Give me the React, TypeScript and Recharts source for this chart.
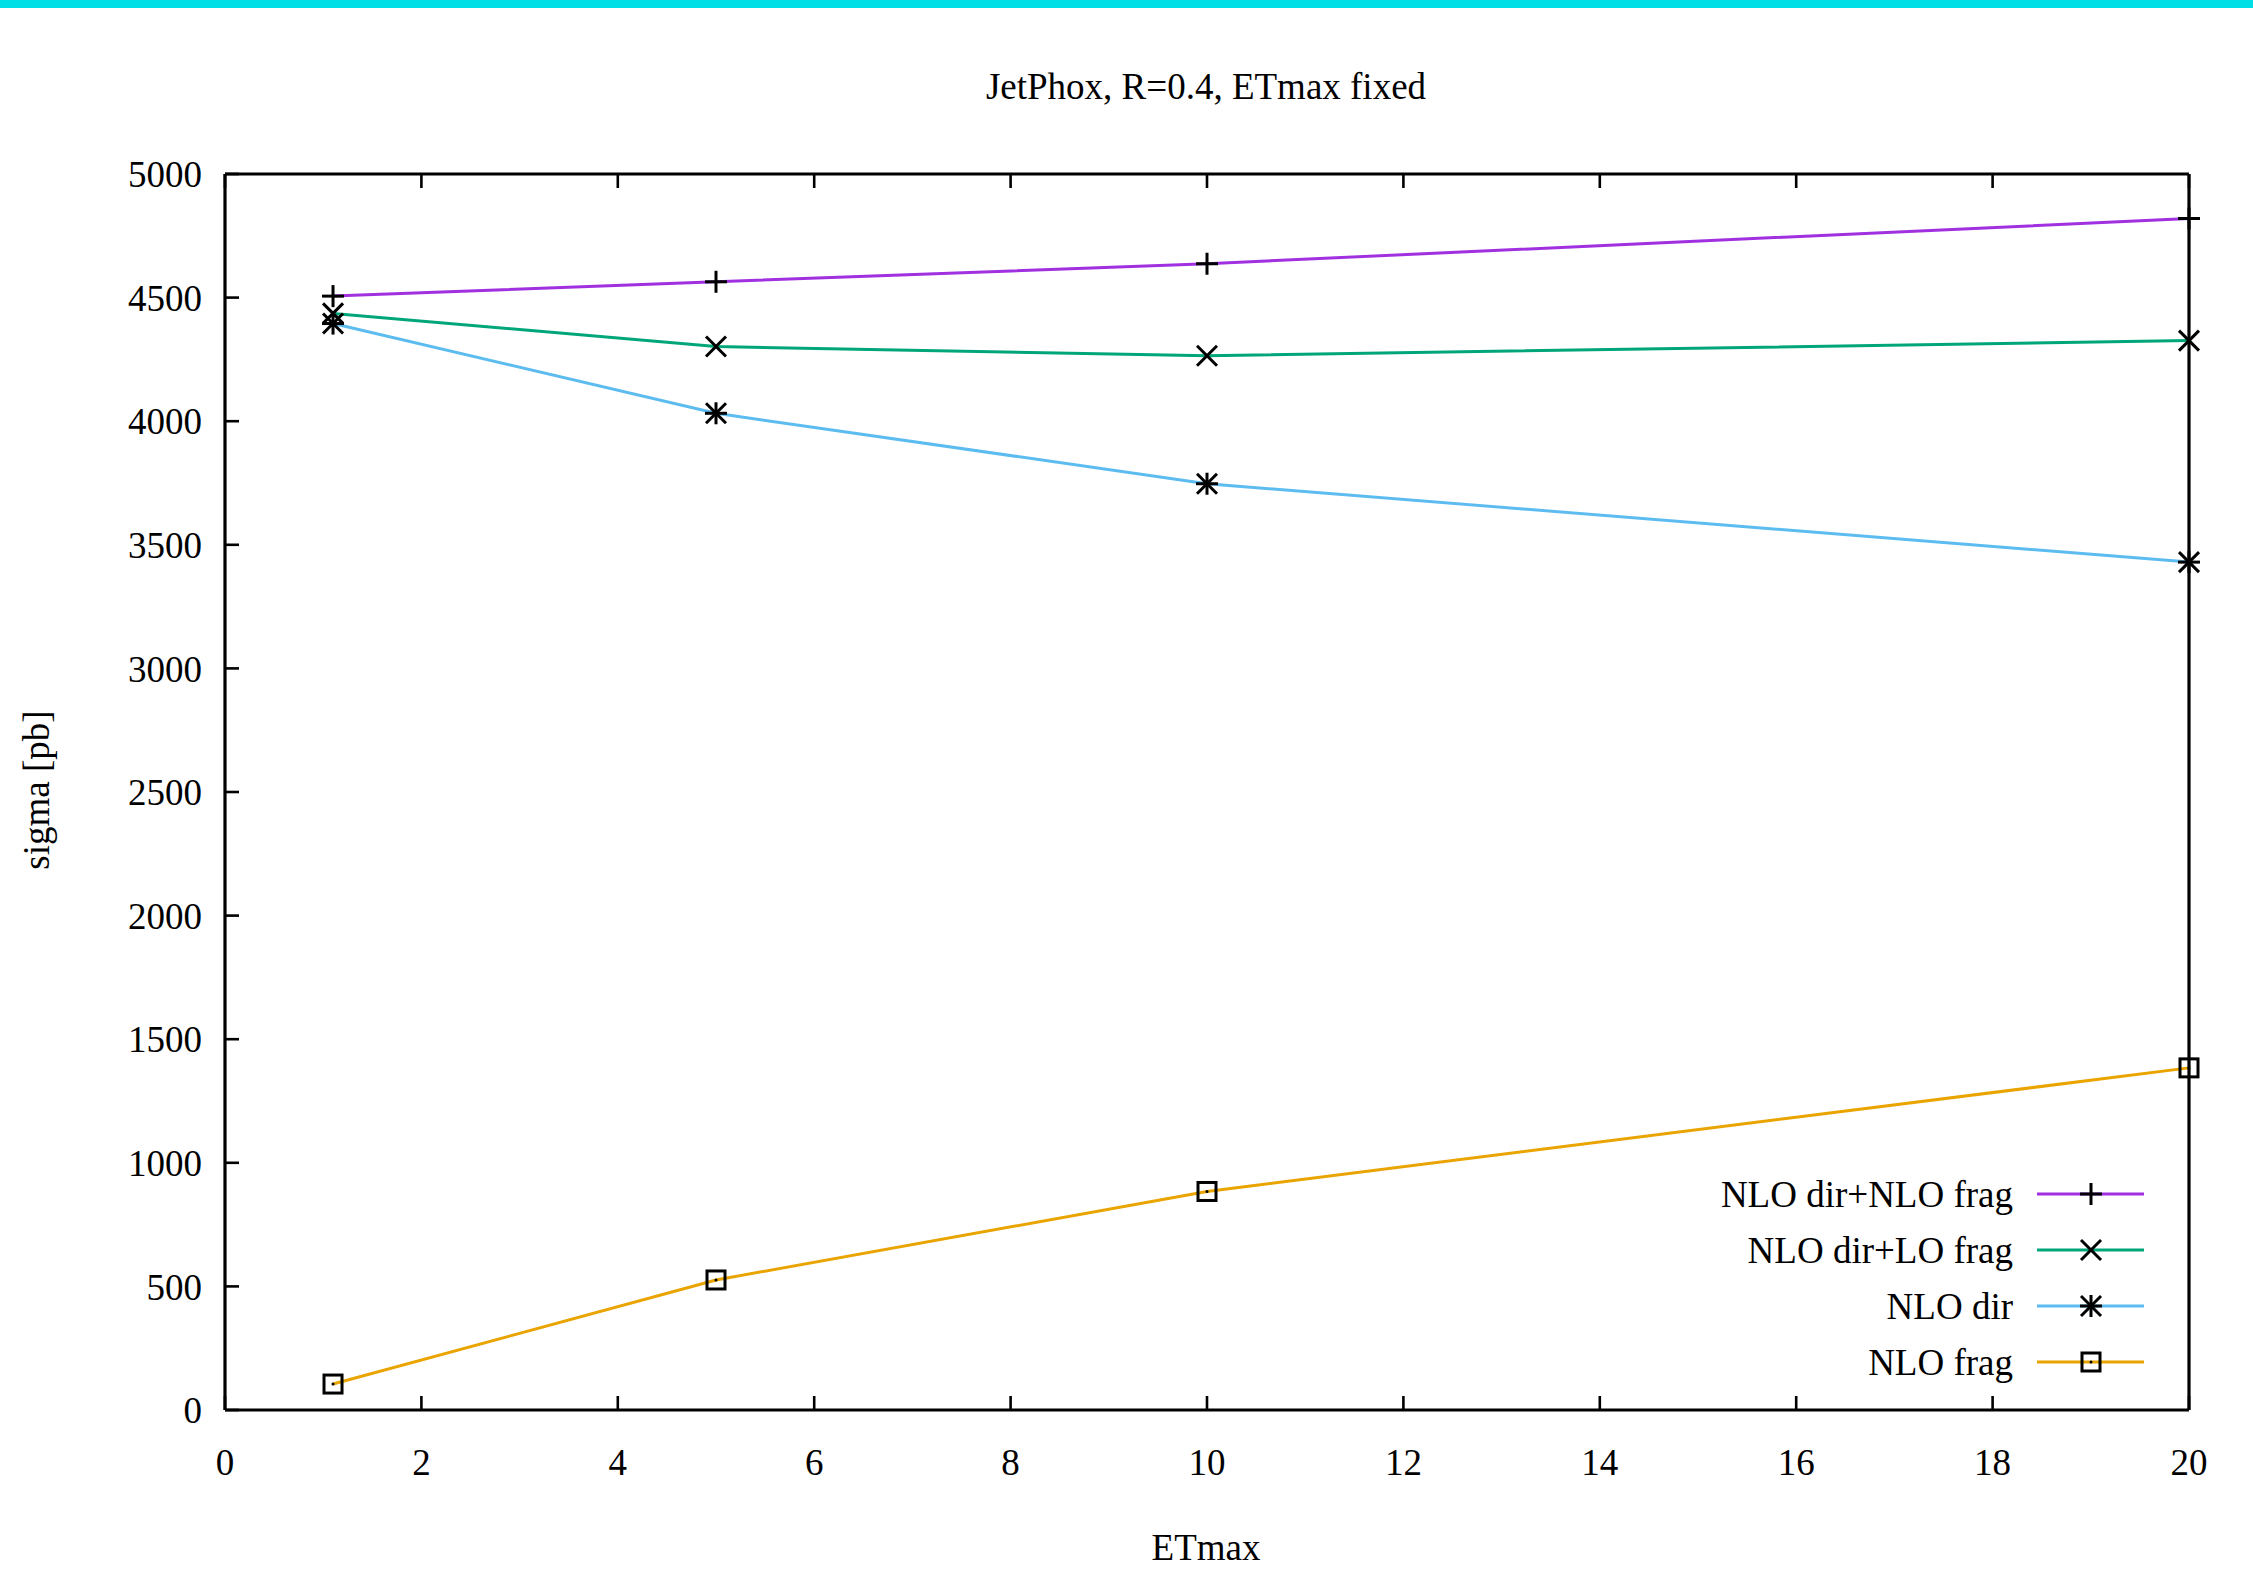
import { LineChart, Line, XAxis, YAxis, Legend, Customized } from 'recharts';

const xValues = [1.1, 5, 10, 20];
const nloDirNloFrag = [4506, 4564, 4637, 4820];
const nloDirLoFrag = [4436, 4302, 4265, 4326];
const nloDir = [4395, 4032, 3747, 3430];
const nloFrag = [105, 526, 884, 1384];

const xTicks = [0, 2, 4, 6, 8, 10, 12, 14, 16, 18, 20];
const yTicks = [0, 500, 1000, 1500, 2000, 2500, 3000, 3500, 4000, 4500, 5000];

const series = [
  { key: 'a', name: 'NLO dir+NLO frag', color: '#a030e0', marker: 'plus', values: nloDirNloFrag },
  { key: 'b', name: 'NLO dir+LO frag', color: '#00a67a', marker: 'cross', values: nloDirLoFrag },
  { key: 'c', name: 'NLO dir', color: '#5cbcf0', marker: 'star', values: nloDir },
  { key: 'd', name: 'NLO frag', color: '#eaa400', marker: 'square', values: nloFrag },
];

const data = xValues.map((x, i) => {
  const row: Record<string, number> = { x };
  series.forEach((s) => (row[s.key] = s.values[i]));
  return row;
});

const FONT = '"Liberation Serif", "DejaVu Serif", serif';
const FS = 37;

function Marker({ kind, cx, cy }: { kind: string; cx: number; cy: number }) {
  const r = 11;
  const d = 10;
  const st = { stroke: '#000', strokeWidth: 3, fill: 'none' };
  if (kind === 'plus') {
    return (
      <g>
        <line x1={cx - r} y1={cy} x2={cx + r} y2={cy} {...st} />
        <line x1={cx} y1={cy - r} x2={cx} y2={cy + r} {...st} />
      </g>
    );
  }
  if (kind === 'cross') {
    return (
      <g>
        <line x1={cx - d} y1={cy - d} x2={cx + d} y2={cy + d} {...st} />
        <line x1={cx - d} y1={cy + d} x2={cx + d} y2={cy - d} {...st} />
      </g>
    );
  }
  if (kind === 'star') {
    return (
      <g>
        <line x1={cx - r} y1={cy} x2={cx + r} y2={cy} {...st} />
        <line x1={cx} y1={cy - r} x2={cx} y2={cy + r} {...st} />
        <line x1={cx - d} y1={cy - d} x2={cx + d} y2={cy + d} {...st} />
        <line x1={cx - d} y1={cy + d} x2={cx + d} y2={cy - d} {...st} />
      </g>
    );
  }
  return (
    <g>
      <rect x={cx - 9} y={cy - 9} width={18} height={18} {...st} />
      <circle cx={cx} cy={cy} r={1.5} fill="#000" />
    </g>
  );
}

const LegendBox = () => (
  <svg width={700} height={240} style={{ overflow: 'visible' }}>
    {series.map((s, i) => {
      const y = 34 + i * 56;
      return (
        <g key={s.key}>
          <text x={513} y={y} dy="0.35em" textAnchor="end" fontFamily={FONT} fontSize={FS} fill="#000">
            {s.name}
          </text>
          <line x1={537} y1={y} x2={644} y2={y} stroke={s.color} strokeWidth={3} />
          <Marker kind={s.marker} cx={591} cy={y} />
        </g>
      );
    })}
  </svg>
);

const ChartTexts = () => (
  <g fontFamily={FONT} fontSize={FS} fill="#000">
    <text x={1206} y={86} dy="0.35em" textAnchor="middle">JetPhox, R=0.4, ETmax fixed</text>
    <text x={1206} y={1547} dy="0.35em" textAnchor="middle">ETmax</text>
    <text x={36} y={790} dy="0.35em" textAnchor="middle" transform="rotate(-90 36 790)">sigma [pb]</text>
  </g>
);

const noLabel = () => <g />;

const App = () => {
  return (
    <div style={{ position: 'absolute', left: 0, top: 0, width: 2253, height: 1588, background: '#fff' }}>
      <div style={{ position: 'absolute', left: 0, top: 0, width: 2253, height: 8, background: '#00dfe6' }} />
      <LineChart
        width={2253}
        height={1588}
        data={data}
        margin={{ top: 164, right: 54, bottom: 0, left: 0 }}
        style={{ fontFamily: FONT }}
      >
        <XAxis
          xAxisId="bottom"
          dataKey="x"
          type="number"
          domain={[0, 20]}
          ticks={xTicks}
          height={178}
          tickSize={-14}
          tickMargin={53}
          axisLine={{ stroke: '#000', strokeWidth: 3.2 }}
          tickLine={{ stroke: '#000', strokeWidth: 2.6 }}
          tick={{ fill: '#000', fontSize: FS, fontFamily: FONT }}
          interval={0}
        />
        <XAxis
          xAxisId="top"
          orientation="top"
          dataKey="x"
          type="number"
          domain={[0, 20]}
          ticks={xTicks}
          height={10}
          tickSize={-14}
          axisLine={{ stroke: '#000', strokeWidth: 3.2 }}
          tickLine={{ stroke: '#000', strokeWidth: 2.6 }}
          tick={noLabel}
          interval={0}
        />
        <YAxis
          yAxisId="left"
          type="number"
          domain={[0, 5000]}
          ticks={yTicks}
          width={225}
          tickSize={-14}
          tickMargin={37}
          axisLine={{ stroke: '#000', strokeWidth: 3.2 }}
          tickLine={{ stroke: '#000', strokeWidth: 2.6 }}
          tick={{ fill: '#000', fontSize: FS, fontFamily: FONT }}
          interval={0}
        />
        <YAxis
          yAxisId="right"
          orientation="right"
          type="number"
          domain={[0, 5000]}
          ticks={yTicks}
          width={10}
          tickSize={-14}
          axisLine={{ stroke: '#000', strokeWidth: 3.2 }}
          tickLine={{ stroke: '#000', strokeWidth: 2.6 }}
          tick={noLabel}
          interval={0}
        />
        {series.map((s) => (
          <Line
            key={s.key}
            xAxisId="bottom"
            yAxisId="left"
            dataKey={s.key}
            name={s.name}
            type="linear"
            stroke={s.color}
            strokeWidth={3}
            isAnimationActive={false}
            dot={(p: any) => <Marker key={`${s.key}-${p.index}`} kind={s.marker} cx={p.cx} cy={p.cy} />}
            activeDot={false}
          />
        ))}
        <Legend
          layout="vertical"
          align="center"
          verticalAlign="middle"
          wrapperStyle={{ left: 1500, top: 1160, width: 700 }}
          content={() => <LegendBox />}
        />
        <Customized component={ChartTexts} />
      </LineChart>
    </div>
  );
};

export default App;
